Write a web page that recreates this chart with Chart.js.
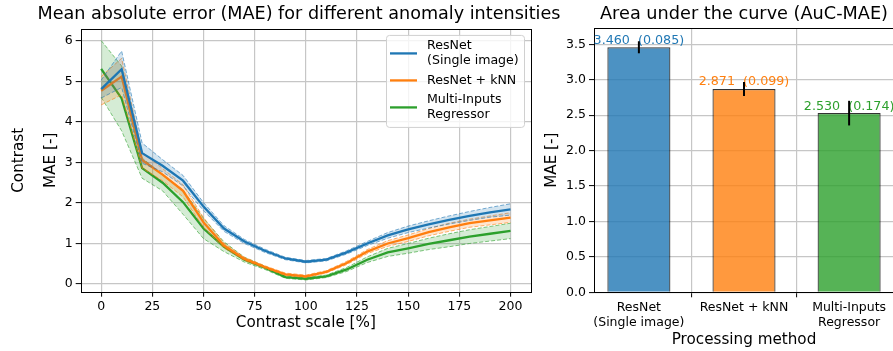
<!DOCTYPE html>
<html>
<head>
<meta charset="utf-8">
<script src="https://cdn.jsdelivr.net/npm/chart.js@4.4.0/dist/chart.umd.min.js"></script>
<style>
  html, body { margin:0; padding:0; background:#fff; overflow:hidden; width:893px; height:351px; }
  #izq { position:absolute; left:0; top:0; }
  #der { position:absolute; left:536px; top:0; }
</style>
</head>
<body>
<canvas id="izq" width="598" height="351"></canvas>
<canvas id="der" width="364" height="351"></canvas>
<script>
// datos
var contraste = [0,10,20,30,40,50,60,70,80,90,100,110,120,130,140,150,160,170,180,190,200];
var maeResnet = [4.81,5.30,3.23,2.92,2.55,1.91,1.37,1.05,0.82,0.63,0.55,0.60,0.78,1.00,1.20,1.35,1.47,1.58,1.68,1.77,1.84];
var stdResnet = [0.22,0.45,0.25,0.15,0.13,0.10,0.07,0.05,0.04,0.03,0.03,0.03,0.04,0.05,0.07,0.08,0.09,0.10,0.11,0.12,0.14];
var maeKnn    = [4.77,5.12,3.06,2.70,2.30,1.52,0.95,0.62,0.42,0.24,0.19,0.30,0.52,0.80,1.00,1.13,1.28,1.40,1.50,1.57,1.64];
var stdKnn    = [0.35,0.45,0.20,0.15,0.15,0.12,0.06,0.04,0.03,0.03,0.03,0.03,0.04,0.05,0.07,0.08,0.09,0.10,0.10,0.11,0.12];
var maeMulti  = [5.31,4.58,2.86,2.50,2.02,1.37,0.92,0.60,0.40,0.17,0.13,0.19,0.36,0.60,0.78,0.88,0.99,1.08,1.17,1.24,1.31];
var stdMulti  = [0.70,0.80,0.25,0.20,0.30,0.25,0.12,0.06,0.04,0.03,0.03,0.03,0.05,0.07,0.10,0.12,0.14,0.16,0.17,0.18,0.19];
var ticksX = [0,25,50,75,100,125,150,175,200];
var ticksY = [0,1,2,3,4,5,6];

var metodos = [['ResNet','(Single image)'], ['ResNet + kNN'], ['Multi-Inputs','Regressor']];
var aucMedia = [3.460, 2.871, 2.530];
var aucDesv  = [0.085, 0.099, 0.174];
var ticksAuc = [0,0.5,1.0,1.5,2.0,2.5,3.0,3.5];

var colores = ['#1f77b4', '#ff7f0e', '#2ca02c'];
var coloresRgb = ['31,119,180', '255,127,14', '44,160,44'];

Chart.defaults.font.family = '"DejaVu Sans", sans-serif';
Chart.defaults.color = '#000';
Chart.defaults.animation = false;

var gris = '#c6c6c6';

function puntos(xs, ys){
  return xs.map(function(x, i){ return {x: x, y: ys[i]}; });
}
function banda(media, desv, signo){
  return media.map(function(v, i){ return v + signo*desv[i]; });
}

var series = [
  {media: maeResnet, desv: stdResnet},
  {media: maeKnn, desv: stdKnn},
  {media: maeMulti, desv: stdMulti}
];

var conjuntos = [];
series.forEach(function(s, i){
  var rgb = coloresRgb[i];
  conjuntos.push({data: puntos(contraste, banda(s.media, s.desv, 1)), borderColor: 'rgba('+rgb+',0.6)',
    borderWidth: 1, borderDash: [4,2], pointRadius: 0, fill: false});
  conjuntos.push({data: puntos(contraste, banda(s.media, s.desv, -1)), borderColor: 'rgba('+rgb+',0.6)',
    borderWidth: 1, borderDash: [4,2], pointRadius: 0, fill: '-1', backgroundColor: 'rgba('+rgb+',0.2)'});
  conjuntos.push({data: puntos(contraste, s.media), borderColor: colores[i], borderWidth: 2.3,
    pointRadius: 0, fill: false});
});

var marco = {
  id: 'marco',
  afterDatasetsDraw: function(chart){
    var a = chart.chartArea, c = chart.ctx;
    c.save();
    c.strokeStyle = '#000';
    c.lineWidth = 1;
    c.strokeRect(Math.round(a.left)+0.5, Math.round(a.top)+0.5, Math.round(a.right-a.left), Math.round(a.bottom-a.top));
    c.restore();
  }
};

var leyenda = {
  id: 'leyenda',
  afterDraw: function(chart){
    var a = chart.chartArea, c = chart.ctx;
    var ancho = 138, alto = 92;
    var x0 = a.right - 7 - ancho, y0 = a.top + 6;
    c.save();
    c.beginPath();
    c.roundRect(x0+0.5, y0+0.5, ancho, alto, 3);
    c.fillStyle = 'rgba(255,255,255,0.8)';
    c.fill();
    c.strokeStyle = '#d0d0d0';
    c.lineWidth = 1;
    c.stroke();
    c.font = '12.6px "DejaVu Sans"';
    c.textBaseline = 'middle';
    c.textAlign = 'left';
    var y = y0 + 11;
    metodos.forEach(function(lineas, i){
      var yl = y + (lineas.length-1)*15/2;
      c.strokeStyle = colores[i];
      c.lineWidth = 2.3;
      c.beginPath();
      c.moveTo(x0+4, yl);
      c.lineTo(x0+31, yl);
      c.stroke();
      c.fillStyle = '#000';
      lineas.forEach(function(t, k){ c.fillText(t, x0+41, y + k*15); });
      y += lineas.length*15 + 4.5;
    });
    c.restore();
  }
};

new Chart(document.getElementById('izq'), {
  type: 'line',
  data: {datasets: conjuntos},
  options: {
    responsive: false,
    devicePixelRatio: 1,
    layout: {padding: 0},
    plugins: {
      legend: {display: false},
      tooltip: {enabled: false},
      title: {display: true, text: 'Mean absolute error (MAE) for different anomaly intensities',
        font: {size: 17.6, weight: 'normal'}, color: '#000', padding: {top: 4, bottom: 3.8}}
    },
    scales: {
      x: {
        type: 'linear', min: -10, max: 210,
        afterBuildTicks: function(s){ s.ticks = ticksX.map(function(v){ return {value: v}; }); },
        afterFit: function(s){ s.height = 59.3; },
        grid: {color: gris, lineWidth: 1.2, tickLength: 5, tickColor: '#000', tickWidth: 1},
        border: {display: false},
        ticks: {font: {size: 12.5}, color: '#000', padding: 3, maxRotation: 0, autoSkip: false},
        title: {display: true, text: 'Contrast scale [%]', font: {size: 15.2}, color: '#000', padding: {top: 0, bottom: 18.9}}
      },
      y: {
        min: -0.19, max: 6.296,
        afterBuildTicks: function(s){ s.ticks = ticksY.map(function(v){ return {value: v}; }); },
        afterFit: function(s){ s.width = 50.7; },
        grid: {color: gris, lineWidth: 1.2, tickLength: 5, tickColor: '#000', tickWidth: 1},
        border: {display: false},
        ticks: {font: {size: 12.5}, color: '#000', padding: 3},
        title: {display: true, text: 'MAE [-]', font: {size: 15.2}, color: '#000', padding: {top: 12.2, bottom: 0}}
      },
      yc: {
        position: 'left', weight: 1,
        grid: {display: false}, border: {display: false}, ticks: {display: false},
        afterFit: function(s){ s.width = 30; },
        title: {display: true, text: 'Contrast', font: {size: 15.2}, color: '#000', padding: {top: 10.2, bottom: 0}}
      },
      yr: {
        position: 'right',
        grid: {display: false}, border: {display: false}, ticks: {display: false},
        afterFit: function(s){ s.width = 67; }
      }
    }
  },
  plugins: [marco, leyenda]
});

var barrasError = {
  id: 'barrasError',
  afterDatasetsDraw: function(chart){
    var x = chart.scales.x, y = chart.scales.y, c = chart.ctx;
    c.save();
    aucMedia.forEach(function(v, i){
      var px = x.getPixelForValue(i);
      c.fillStyle = colores[i];
      c.font = '12.7px "DejaVu Sans"';
      c.textAlign = 'center';
      c.textBaseline = 'alphabetic';
      c.fillText(v.toFixed(3) + '  (' + aucDesv[i].toFixed(3) + ')', px, y.getPixelForValue(v) - 3.5);
      c.strokeStyle = '#000';
      c.lineWidth = 2;
      c.beginPath();
      c.moveTo(px, y.getPixelForValue(v - aucDesv[i]));
      c.lineTo(px, y.getPixelForValue(v + aucDesv[i]));
      c.stroke();
    });
    c.restore();
  }
};

new Chart(document.getElementById('der'), {
  type: 'bar',
  data: {
    datasets: [{
      data: aucMedia.map(function(v, i){ return {x: i, y: v}; }),
      backgroundColor: coloresRgb.map(function(r){ return 'rgba('+r+',0.8)'; }),
      borderColor: 'rgba(0,0,0,0.8)',
      borderWidth: 1.2,
      barPercentage: 0.6,
      categoryPercentage: 1.0
    }]
  },
  options: {
    responsive: false,
    devicePixelRatio: 1,
    layout: {padding: {left: 0, right: 6, top: 0, bottom: 0}},
    plugins: {
      legend: {display: false},
      tooltip: {enabled: false},
      title: {display: true, text: 'Area under the curve (AuC-MAE)', fullSize: false,
        font: {size: 17.7, weight: 'normal'}, color: '#000', padding: {top: 4, bottom: 2.9}}
    },
    scales: {
      x: {
        type: 'linear', min: -0.427, max: 2.427, offset: false,
        afterBuildTicks: function(s){ s.ticks = metodos.map(function(m, i){ return {value: i}; }); },
        afterFit: function(s){ s.height = 58.7; },
        grid: {color: gris, lineWidth: 1.2, tickLength: 5, tickColor: '#000', tickWidth: 1},
        border: {display: false},
        ticks: {font: {size: 12.5, lineHeight: 1.2}, color: '#000', padding: 3, maxRotation: 0, autoSkip: false,
          callback: function(v){ return metodos[v]; }},
        title: {display: true, text: 'Processing method', font: {size: 15.2}, color: '#000', padding: {top: 0, bottom: 1.9}}
      },
      y: {
        min: 0, max: 3.73,
        afterBuildTicks: function(s){ s.ticks = ticksAuc.map(function(v){ return {value: v}; }); },
        afterFit: function(s){ s.width = 58; },
        grid: {color: gris, lineWidth: 1.2, tickLength: 5, tickColor: '#000', tickWidth: 1},
        border: {display: false},
        ticks: {font: {size: 12.5}, color: '#000', padding: 3, callback: function(v){ return v.toFixed(1); }},
        title: {display: true, text: 'MAE [-]', font: {size: 15.2}, color: '#000', padding: {top: 6.9, bottom: 0}}
      }
    }
  },
  plugins: [marco, barrasError]
});
</script>
</body>
</html>
